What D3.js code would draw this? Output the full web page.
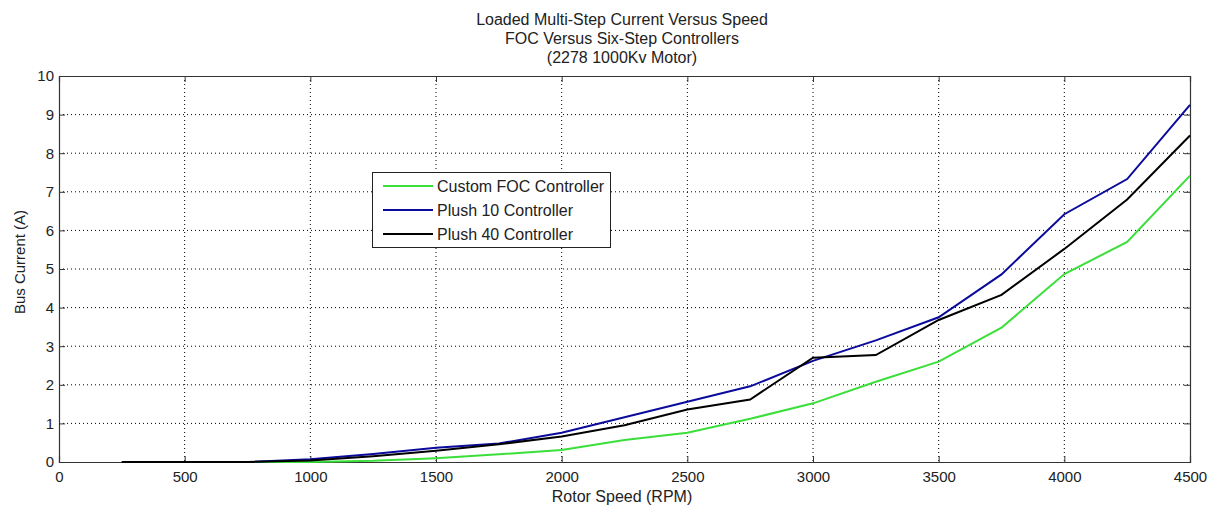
<!DOCTYPE html>
<html><head><meta charset="utf-8">
<script src="https://cdn.jsdelivr.net/npm/d3@7"></script>
<style>
body{margin:0;background:#fff;}
svg text{font-family:"Liberation Sans",Arial,sans-serif;fill:#222;}
</style></head>
<body><svg id="c" width="1215" height="510"></svg>
<script>
const speeds = [250,500,750,1000,1250,1500,1750,2000,2250,2500,2750,3000,3250,3500,3750,4000,4250,4500];
const focCurrent   = [0,0,0,0,0.03,0.10,0.20,0.31,0.57,0.76,1.12,1.52,2.08,2.60,3.48,4.87,5.70,7.42];
const plush10Current = [0,0,0,0.07,0.21,0.37,0.48,0.76,1.16,1.56,1.96,2.62,3.15,3.75,4.86,6.42,7.33,9.25];
const plush40Current = [0,0,0,0.04,0.15,0.29,0.46,0.66,0.95,1.36,1.62,2.70,2.77,3.68,4.33,5.52,6.80,8.46];
const xTicks = [0,500,1000,1500,2000,2500,3000,3500,4000,4500];
const yTicks = [0,1,2,3,4,5,6,7,8,9,10];
const titleLines = ["Loaded Multi-Step Current Versus Speed","FOC Versus Six-Step Controllers","(2278 1000Kv Motor)"];
const seriesNames = ["Custom FOC Controller","Plush 10 Controller","Plush 40 Controller"];
const seriesColors = ["#3adf3a","#0a0a9c","#000000"];

const svg = d3.select("#c");
const L=59,R=1190,T=76,B=462;
const x = d3.scaleLinear().domain([0,4500]).range([L,R]);
const y = d3.scaleLinear().domain([0,10]).range([B,T]);

// grid
const g = svg.append("g");
g.selectAll(".vg").data(xTicks.slice(1,-1)).enter().append("line")
 .attr("x1",d=>x(d)).attr("x2",d=>x(d)).attr("y1",T).attr("y2",B)
 .attr("stroke","#000").attr("stroke-width",1).attr("stroke-dasharray","1,3");
g.selectAll(".hg").data(yTicks.slice(1,-1)).enter().append("line")
 .attr("y1",d=>y(d)).attr("y2",d=>y(d)).attr("x1",L).attr("x2",R)
 .attr("stroke","#000").attr("stroke-width",1).attr("stroke-dasharray","1,3");

// axes
const fs=15;
const xb = svg.append("g").attr("transform",`translate(0,${B})`)
 .call(d3.axisBottom(x).tickValues(xTicks).tickSize(-6).tickPadding(9).tickFormat(d3.format("d")));
const xt = svg.append("g").attr("transform",`translate(0,${T})`)
 .call(d3.axisTop(x).tickValues(xTicks).tickSize(-6).tickFormat(""));
const yl = svg.append("g").attr("transform",`translate(${L},0)`)
 .call(d3.axisLeft(y).tickValues(yTicks).tickSize(-6).tickPadding(5).tickFormat(d3.format("d")));
const yr = svg.append("g").attr("transform",`translate(${R},0)`)
 .call(d3.axisRight(y).tickValues(yTicks).tickSize(-6).tickFormat(""));
[xb,xt,yl,yr].forEach(a=>{
  a.selectAll("path").attr("stroke","#333").attr("stroke-width",1.2);
  a.selectAll("line").attr("stroke","#333");
  a.selectAll("text").attr("font-size",fs).attr("font-family","Liberation Sans, Arial, sans-serif").attr("fill","#222");
});

// lines
const line = d3.line().x((d,i)=>x(speeds[i])).y(d=>y(d));
const series=[focCurrent,plush10Current,plush40Current];
series.forEach((s,i)=>{
  svg.append("path").datum(s).attr("d",line).attr("fill","none")
   .attr("stroke",seriesColors[i]).attr("stroke-width",2);
});

// titles
titleLines.forEach((t,i)=>{
  svg.append("text").attr("x",622).attr("y",25+i*19).attr("text-anchor","middle")
   .attr("font-size",16).text(t);
});
svg.append("text").attr("x",622).attr("y",502).attr("text-anchor","middle").attr("font-size",16).text("Rotor Speed (RPM)");
svg.append("text").attr("transform",`translate(25,262) rotate(-90)`).attr("text-anchor","middle").attr("font-size",15).text("Bus Current (A)");

// legend
const lg = svg.append("g");
lg.append("rect").attr("x",372.5).attr("y",172.5).attr("width",238).attr("height",75)
 .attr("fill","#fff").attr("stroke","#222").attr("stroke-width",1);
seriesNames.forEach((n,i)=>{
  const yy=186+i*24;
  lg.append("line").attr("x1",383).attr("x2",433).attr("y1",yy).attr("y2",yy)
   .attr("stroke",seriesColors[i]).attr("stroke-width",2);
  lg.append("text").attr("x",437).attr("y",yy+6).attr("font-size",16).text(n);
});
</script></body></html>
